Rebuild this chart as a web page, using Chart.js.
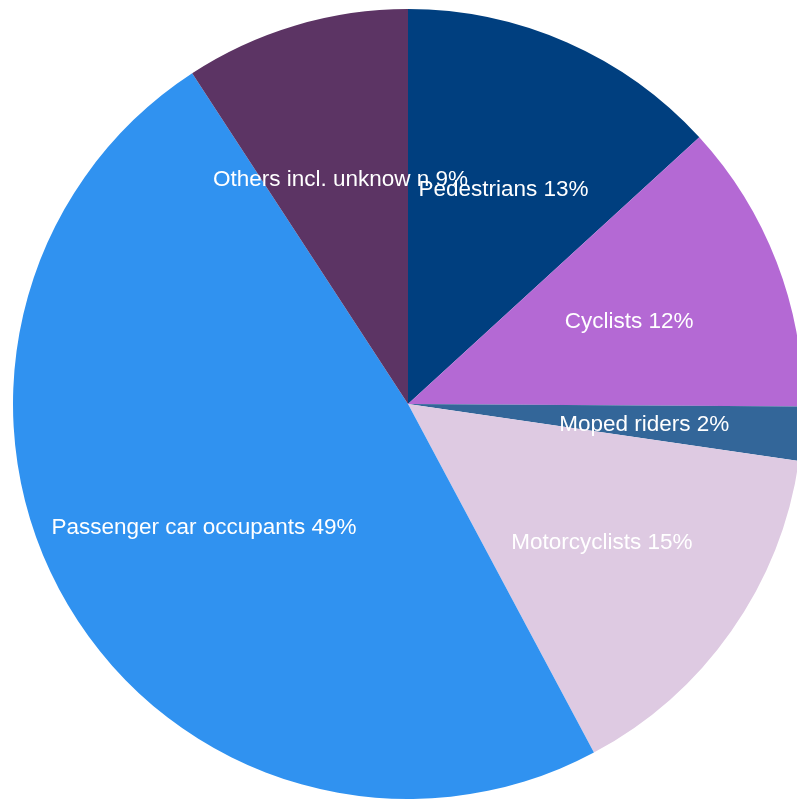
<!DOCTYPE html>
<html>
<head>
<meta charset="utf-8">
<title>Road deaths by mode</title>
<script src="https://cdn.jsdelivr.net/npm/chart.js@4/dist/chart.umd.min.js"></script>
<style>
    html, body {
        margin: 0;
        padding: 0;
        background: #ffffff;
        overflow: hidden;
    }
    #wrap {
        position: absolute;
        left: 13px;
        top: 9px;
        width: 790px;
        height: 790px;
    }
</style>
</head>
<body>
<div id="wrap">
    <canvas id="modePie" width="790" height="790"></canvas>
</div>
<script>
const categories = [
    "Pedestrians",
    "Cyclists",
    "Moped riders",
    "Motorcyclists",
    "Passenger car occupants",
    "Others incl. unknow n"
];
// shares in percent, labels show them rounded
const shares = [13.2, 11.9, 2.2, 14.9, 48.6, 9.2];
const sliceColors = ["#003F7F", "#B469D4", "#336699", "#DECAE2", "#3092F0", "#5C3464"];

// writes "<name> <share>%" inside each slice, at 60% of the radius
const sliceLabels = {
    id: "sliceLabels",
    afterDatasetsDraw(chart) {
        const ctx = chart.ctx;
        const meta = chart.getDatasetMeta(0);
        ctx.save();
        ctx.font = "22.5px 'Liberation Sans', Arial, sans-serif";
        ctx.fillStyle = "#ffffff";
        ctx.textAlign = "center";
        ctx.textBaseline = "middle";
        meta.data.forEach((arc, i) => {
            const p = arc.getProps(["x", "y", "startAngle", "endAngle", "outerRadius"], true);
            const mid = (p.startAngle + p.endAngle) / 2;
            const r = p.outerRadius * 0.6;
            const tx = p.x + Math.cos(mid) * r;
            const ty = p.y + Math.sin(mid) * r;
            ctx.fillText(categories[i] + " " + Math.round(shares[i]) + "%", tx, ty + 3);
        });
        ctx.restore();
    }
};

const ctx = document.getElementById("modePie").getContext("2d");
new Chart(ctx, {
    type: "pie",
    data: {
        labels: categories,
        datasets: [{
            data: shares,
            backgroundColor: sliceColors,
            borderWidth: 0
        }]
    },
    options: {
        responsive: false,
        animation: false,
        layout: { padding: 0 },
        plugins: {
            legend: { display: false },
            tooltip: { enabled: false },
            title: { display: false }
        }
    },
    plugins: [sliceLabels]
});
</script>
</body>
</html>
